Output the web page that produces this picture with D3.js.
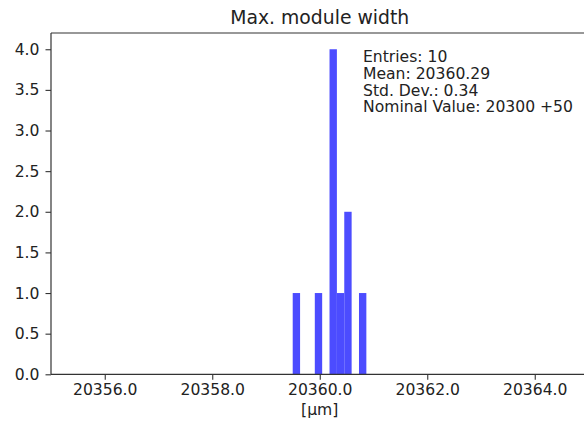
<!DOCTYPE html>
<html>
<head>
<meta charset="utf-8">
<script src="https://cdn.jsdelivr.net/npm/d3@7"></script>
<style>
  html, body { margin: 0; padding: 0; background: #fff; }
  svg { display: block; font-family: "DejaVu Sans", sans-serif; }
</style>
</head>
<body>
<svg id="chart" width="584" height="422"></svg>
<script>
// ---- data ----
const binEdges = [20359.497, 20359.634, 20359.771, 20359.908, 20360.045, 20360.182,
                  20360.319, 20360.456, 20360.593, 20360.730, 20360.867];
const counts = [1, 0, 0, 1, 0, 4, 1, 2, 0, 1];
const xTicks = [20356, 20358, 20360, 20362, 20364];
const yTicks = [0, 0.5, 1, 1.5, 2, 2.5, 3, 3.5, 4];
const titleText = "Max. module width";
const xLabelText = "[µm]";
const statsLines = ["Entries: 10", "Mean: 20360.29", "Std. Dev.: 0.34", "Nominal Value: 20300 +50"];

// ---- layout ----
const svg = d3.select("#chart");
const mLeft = 51, mRight = 588.5, mTop = 33, mBottom = 374.3;

const x = d3.scaleLinear().domain([20355, 20365]).range([mLeft, mRight]);
const y = d3.scaleLinear().domain([0, 4.2]).range([mBottom, mTop]);

const bins = counts.map((c, i) => ({x0: binEdges[i], x1: binEdges[i + 1], c}));

svg.append("g").selectAll("rect")
  .data(bins.filter(d => d.c > 0))
  .join("rect")
  .attr("x", d => x(d.x0))
  .attr("width", d => x(d.x1) - x(d.x0))
  .attr("y", d => y(d.c))
  .attr("height", d => y(0) - y(d.c))
  .attr("fill", "#4c4cff");

const fontSize = 15.6;

// x axis
const xAxis = d3.axisBottom(x).tickValues(xTicks).tickFormat(d3.format(".1f"))
  .tickSize(5.5).tickPadding(4);
const gx = svg.append("g").attr("transform", `translate(0,${mBottom})`).call(xAxis);
gx.select(".domain").remove();
gx.selectAll("text").attr("font-size", fontSize).attr("font-family", "DejaVu Sans").attr("fill", "#222");
gx.selectAll("line").attr("stroke", "#333").attr("stroke-width", 1.1);

// y axis
const yAxis = d3.axisLeft(y).tickValues(yTicks).tickFormat(d3.format(".1f"))
  .tickSize(5.5).tickPadding(6);
const gy = svg.append("g").attr("transform", `translate(${mLeft},0)`).call(yAxis);
gy.select(".domain").remove();
gy.selectAll("text").attr("font-size", fontSize).attr("font-family", "DejaVu Sans").attr("fill", "#222");
gy.selectAll("line").attr("stroke", "#333").attr("stroke-width", 1.1);

// spines
const sp = svg.append("g").attr("stroke", "#333").attr("stroke-width", 1.2).attr("fill", "none");
sp.append("line").attr("x1", mLeft).attr("x2", mLeft).attr("y1", mTop).attr("y2", mBottom);
sp.append("line").attr("x1", mLeft).attr("x2", mRight).attr("y1", mBottom).attr("y2", mBottom);
sp.append("line").attr("x1", mLeft).attr("x2", mRight).attr("y1", mTop).attr("y2", mTop);
sp.append("line").attr("x1", mRight).attr("x2", mRight).attr("y1", mTop).attr("y2", mBottom);

// title
svg.append("text").attr("x", (mLeft + mRight) / 2).attr("y", 24)
  .attr("text-anchor", "middle").attr("font-size", 18.8).attr("fill", "#222")
  .text(titleText);

// x label
svg.append("text").attr("x", (mLeft + mRight) / 2).attr("y", 415)
  .attr("text-anchor", "middle").attr("font-size", fontSize).attr("fill", "#222")
  .text(xLabelText);

// stats box text
const st = svg.append("text").attr("font-size", fontSize).attr("fill", "#222");
statsLines.forEach((s, i) => {
  st.append("tspan").attr("x", 363).attr("y", 62.3 + i * 16.7).text(s);
});
</script>
</body>
</html>
